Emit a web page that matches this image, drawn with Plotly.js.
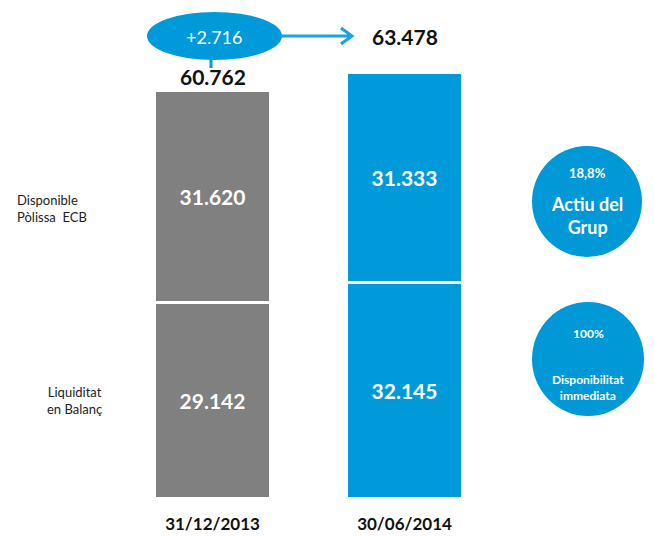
<!DOCTYPE html>
<html>
<head>
<meta charset="utf-8">
<script src="https://cdn.plot.ly/plotly-3.0.1.min.js"></script>
<style>html,body{margin:0;padding:0;background:#fff;}#chart{width:655px;height:536px;}</style>
</head>
<body>
<div id="chart"></div>
<script>
// Data (milions d'euros)
const categories = ['31/12/2013', '30/06/2014'];
const liquiditatBalanc = [29142, 32145];
const disponiblePolissaECB = [31620, 31333];
const totals = [60762, 63478];
const variation = 2716;
const barColors = ['#808080', '#009ADA'];

const xPos = [0, 1];
const W = 655, H = 536, plotBottom = 498;
const px = v => v / W;
const py = v => (plotBottom - v) / plotBottom;
const FONT = 'Lato, "Open Sans", sans-serif';

const traceCommon = {
  type: 'bar',
  x: xPos,
  width: 0.6,
  textposition: 'inside',
  insidetextanchor: 'middle',
  texttemplate: '%{y:,.0f}',
  textfont: {color: '#ffffff', size: 21, family: FONT, weight: 'bold'},
  marker: {color: barColors, line: {color: '#ffffff', width: 3}},
  hoverinfo: 'skip'
};

const data = [
  Object.assign({}, traceCommon, {name: 'Liquiditat en Balanç', y: liquiditatBalanc}),
  Object.assign({}, traceCommon, {name: 'Disponible Pòlissa ECB', y: disponiblePolissaECB})
];

const annotations = [];
function txt(x, y, text, size, color, extra) {
  annotations.push(Object.assign({
    x: px(x), y: py(y), xref: 'paper', yref: 'paper', xanchor: 'center', yanchor: 'middle',
    text: text, showarrow: false, font: {size: size, color: color, family: FONT}
  }, extra || {}));
}
// totals
totals.forEach((t, i) => {
  annotations.push({
    x: xPos[i], y: t, xref: 'x', yref: 'y', xanchor: 'center',
    text: '<b>' + t.toLocaleString('de-DE') + '</b>',
    showarrow: false, yanchor: 'bottom', yshift: i === 0 ? 0 : 22,
    font: {size: 21, color: '#111111', family: FONT}
  });
});
// variation inside ellipse
txt(214, 37, '+' + variation.toLocaleString('de-DE'), 18, '#ffffff');
// series labels
txt(15, 208, 'Disponible<br>Pòlissa  ECB', 13, '#222222', {xanchor: 'left', align: 'left'});
txt(74, 400, 'Liquiditat<br>en Balanç', 13, '#222222');
// circle texts
txt(587, 173, '<b>18,8%</b>', 13, '#ffffff');
txt(587, 215, '<b>Actiu del<br>Grup</b>', 18, '#ffffff');
txt(588, 333, '<b>100%</b>', 12, '#ffffff');
txt(588, 387, '<b>Disponibilitat<br>immediata</b>', 12, '#ffffff');

const ax = 282, bx = 352, ay = 36;
const shapes = [
  {type: 'circle', xref: 'paper', yref: 'paper', x0: px(147), x1: px(282), y0: py(60), y1: py(12),
   fillcolor: '#009ADA', line: {width: 0}, layer: 'below'},
  {type: 'line', xref: 'paper', yref: 'paper', x0: px(211), x1: px(211), y0: py(59), y1: py(68),
   line: {color: '#009ADA', width: 3}},
  {type: 'path', xref: 'paper', yref: 'paper',
   path: `M ${px(ax)} ${py(ay)} L ${px(bx)} ${py(ay)} M ${px(bx-11)} ${py(ay-8)} L ${px(bx)} ${py(ay)} L ${px(bx-11)} ${py(ay+8)}`,
   line: {color: '#1BA3E0', width: 3}},
  {type: 'circle', xref: 'paper', yref: 'paper', x0: px(532), x1: px(642), y0: py(257), y1: py(146),
   fillcolor: '#0098D6', line: {width: 0}, layer: 'below'},
  {type: 'circle', xref: 'paper', yref: 'paper', x0: px(532), x1: px(644), y0: py(416), y1: py(302),
   fillcolor: '#0098D6', line: {width: 0}, layer: 'below'}
];

const layout = {
  width: W, height: H,
  margin: {l: 0, r: 0, t: 0, b: H - plotBottom, pad: 0},
  paper_bgcolor: '#ffffff', plot_bgcolor: '#ffffff',
  separators: ',.',
  barmode: 'stack',
  showlegend: false,
  hovermode: false,
  xaxis: {
    range: [-212.5 / 192, (W - 212.5) / 192],
    tickvals: xPos, ticktext: categories.map(c => '<b>' + c + '</b>'),
    showgrid: false, zeroline: false, showline: false, ticks: '',
    ticklabelstandoff: 14, automargin: false,
    tickfont: {size: 17, color: '#111111', family: FONT},
    fixedrange: true
  },
  yaxis: {
    range: [0, plotBottom / 6.7 * 1000],
    visible: false, showgrid: false, zeroline: false, automargin: false, fixedrange: true
  },
  annotations: annotations,
  shapes: shapes,
  font: {family: FONT}
};

Plotly.newPlot('chart', data, layout, {displayModeBar: false, staticPlot: true});
</script>
</body>
</html>
